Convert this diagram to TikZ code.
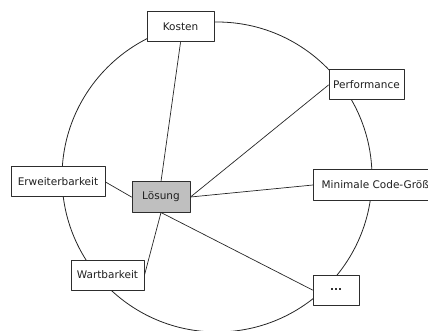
\documentclass[tikz,border=0pt]{standalone}
\usepackage{fontspec}
\setmainfont{DejaVu Sans}
\definecolor{boxline}{RGB}{45,45,45}
\definecolor{solgray}{RGB}{191,191,191}

\begin{document}
\begin{tikzpicture}[x=1pt,y=-1pt,line cap=round,line join=round,
  box/.style={draw=boxline,line width=1pt,fill=white,minimum height=30pt,inner sep=0pt,font=\fontsize{10.5}{12}\selectfont,text=black!88},
  link/.style={black!85,line width=0.7pt}]
\useasboundingbox (0,0) rectangle (428,331);
\clip (0,0) rectangle (428,331);
\draw[black!85,line width=0.8pt] (217,177) circle (155pt);
\node[box,minimum width=67pt] (kosten) at (180.5,27) {Kosten};
\node[box,minimum width=75pt] (perf) at (366.5,85) {Performance};
\node[box,minimum width=94pt] (erw) at (58,182) {Erweiterbarkeit};
\node[box,minimum width=130pt,anchor=west] (code) at (313,185) {Minimale Code-Größe};
\node[box,minimum width=73pt] (wart) at (107.5,275) {Wartbarkeit};
\node[box,minimum width=46pt] (etc) at (336,290) {\textbf{...}};
\node[box,fill=solgray,minimum width=58pt] (loesung) at (161,197) {Lösung};
\draw[link] (kosten.south) -- (loesung.north);
\draw[link] (perf.west) -- (loesung.east);
\draw[link] (code.west) -- (loesung.east);
\draw[link] (erw.east) -- (loesung.west);
\draw[link] (wart.east) -- (loesung.south);
\draw[link] (etc.west) -- (loesung.south);
\end{tikzpicture}
\end{document}
